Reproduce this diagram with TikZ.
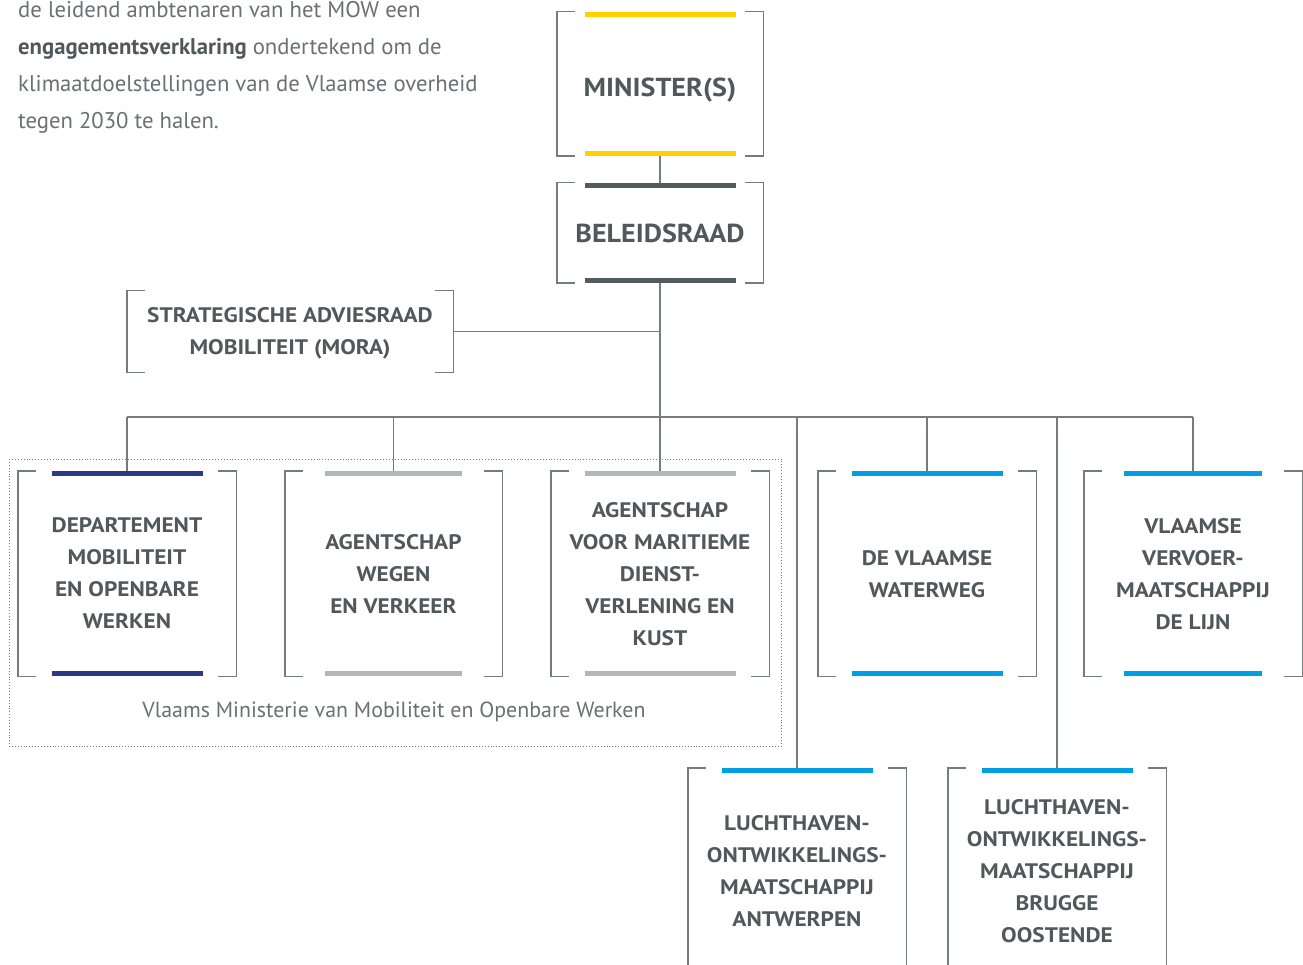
\documentclass[tikz,border=0pt]{standalone}
\usepackage{fontspec}
\setmainfont{PT Sans}
\newfontfamily\boxfont[FakeStretch=1.11]{PT Sans}
\newfontfamily\bigfont[FakeStretch=1.08]{PT Sans}
\usetikzlibrary{calc}
\definecolor{txt}{HTML}{50585C}
\definecolor{body}{HTML}{6A7074}
\definecolor{ln}{HTML}{767B7E}
\definecolor{yel}{HTML}{FFD200}
\definecolor{dk}{HTML}{545B5F}
\definecolor{navy}{HTML}{2B3A84}
\definecolor{lgr}{HTML}{B4B7BA}
\definecolor{blu}{HTML}{009FE3}
\newcommand\drawbrk[1]{%
  \draw[brkline] ($(#1.north west)+(18,0)$) -- (#1.north west) -- (#1.south west) -- ++(18,0);
  \draw[brkline] ($(#1.north east)+(-18,0)$) -- (#1.north east) -- (#1.south east) -- ++(-18,0);}
\newcommand\drawbars[3]{%
  \draw[barline, draw=#2] ($(#1.north)+(-#3/2,2.5)$) -- ++(#3,0);
  \draw[barline, draw=#2] ($(#1.south)+(-#3/2,-2.5)$) -- ++(#3,0);}
\begin{document}
\begin{tikzpicture}[x=1pt,y=-1pt,
  brkline/.style={draw=ln, line width=1.4pt},
  conn/.style={draw=ln, line width=1.2pt},
  barline/.style={line width=5pt},
  box/.style={inner sep=0pt, align=center, text=txt, text depth=0pt, font=\boxfont\bfseries\fontsize{21}{32}\selectfont, minimum width=218, minimum height=205},
  bigbox/.style={box, font=\bigfont\bfseries\fontsize{26}{32}\selectfont, minimum width=206},
  bodytxt/.style={inner sep=0pt, anchor=base west, text=body, font=\fontsize{22.7}{37}\selectfont},
]
\useasboundingbox (0,0) rectangle (1303,965);
\clip (0,0) rectangle (1303,965);
\fill[white] (0,0) rectangle (1303,965);

% intro text
\node[bodytxt] (t1) at (18,18) {de leidend ambtenaren van het MOW een};
\node[bodytxt] (t2) at (18,55) {\textbf{\color{txt}engagementsverklaring} ondertekend om de};
\node[bodytxt] (t3) at (18,92) {klimaatdoelstellingen van de Vlaamse overheid};
\node[bodytxt] (t4) at (18,129) {tegen 2030 te halen.};

% dotted group
\draw[ln, line width=0.9pt, dotted] (9,459) rectangle (781,746);
\node[text=body, font=\fontsize{21.9}{26}\selectfont, inner sep=0pt] (grp) at (394,712) {Vlaams Ministerie van Mobiliteit en Openbare Werken};

% boxes
\node[bigbox, minimum height=144] (min) at (660,84) {\raisebox{-3pt}[\height][\depth]{MINISTER(S)}};
\node[bigbox, minimum height=100] (bel) at (660,233) {BELEIDSRAAD};
\node[box, minimum width=326, minimum height=81] (mora) at (290,331.5) {STRATEGISCHE ADVIESRAAD\\MOBILITEIT (MORA)};
\node[box] (dept) at (127,573.5) {DEPARTEMENT\\MOBILITEIT\\EN OPENBARE\\WERKEN};
\node[box, minimum width=217] (weg) at (393.5,573.5) {AGENTSCHAP\\WEGEN\\EN VERKEER};
\node[box] (mar) at (660,573.5) {AGENTSCHAP\\VOOR MARITIEME\\DIENST-\\VERLENING EN\\KUST};
\node[box] (dvw) at (927,573.5) {DE VLAAMSE\\WATERWEG};
\node[box] (lijn) at (1193,573.5) {VLAAMSE\\VERVOER-\\MAATSCHAPPIJ\\DE LIJN};
\node[box] (antw) at (797,870.5) {LUCHTHAVEN-\\ONTWIKKELINGS-\\MAATSCHAPPIJ\\ANTWERPEN};
\node[box] (brug) at (1057,870.5) {LUCHTHAVEN-\\ONTWIKKELINGS-\\MAATSCHAPPIJ\\BRUGGE\\OOSTENDE};

\coordinate (bus) at (660,417);

% connectors
\draw[conn] (min.south) -- (bel.north);
\draw[conn] (bel.south) -- (bus);
\draw[conn] (mora.east) -- (mora.east -| bel.south);
\draw[conn] (dept.north |- bus) -- (lijn.north |- bus);
\foreach \n in {dept,weg,mar,dvw,lijn,antw,brug} {\draw[conn] (\n.north |- bus) -- (\n.north);}

% brackets
\foreach \n in {min,bel,mora,dept,weg,mar,dvw,lijn,antw,brug} {\drawbrk{\n}}

% bars
\drawbars{min}{yel}{151}
\drawbars{bel}{dk}{151}
\drawbars{dept}{navy}{151}
\drawbars{weg}{lgr}{137}
\drawbars{mar}{lgr}{151}
\drawbars{dvw}{blu}{151}
\drawbars{lijn}{blu}{138}
\drawbars{antw}{blu}{151}
\drawbars{brug}{blu}{151}
\end{tikzpicture}
\end{document}
